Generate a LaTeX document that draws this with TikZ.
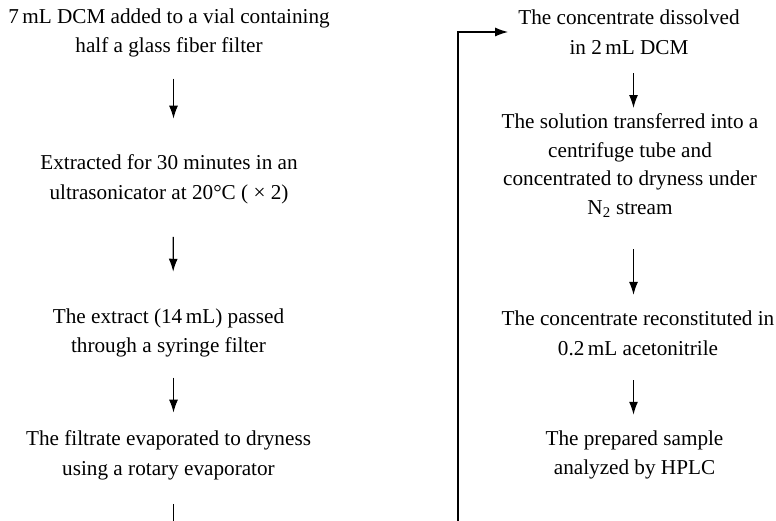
\documentclass[tikz,border=0pt]{standalone}
\usepackage{fontspec}
\setmainfont{Liberation Serif}
\usetikzlibrary{arrows.meta}
\begin{document}
\begin{tikzpicture}[x=1pt,y=-1pt,
  stepbox/.style={align=center,inner sep=0pt,font=\fontsize{21.2}{29.8}\selectfont},
  tightbox/.style={stepbox,font=\fontsize{21.2}{28.5}\selectfont},
  flow/.style={line width=1.3pt,-{Latex[length=13pt,width=9pt]}},
  plain/.style={line width=1.3pt}]
\useasboundingbox (0,0) rectangle (776,521);
% left column
\node[stepbox] (l1) at (169,33) {7\,mL DCM added to a vial containing\\half a glass fiber filter};
\node[stepbox] (l2) at (169,179) {Extracted for 30 minutes in an\\ultrasonicator at 20°C ( × 2)};
\node[stepbox] (l3) at (168.5,333) {The extract (14\,mL) passed\\through a syringe filter};
\node[stepbox] (l4) at (168.5,455) {The filtrate evaporated to dryness\\using a rotary evaporator};
% right column
\node[stepbox] (r1) at (629,32) {The concentrate dissolved\\in 2\,mL DCM};
\node[tightbox] (r2) at (630,165.5) {The solution transferred into a\\centrifuge tube and\\concentrated to dryness under\\N\textsubscript{2} stream};
\node[stepbox] (r3) at (638,333) {The concentrate reconstituted in\\0.2\,mL acetonitrile};
\node[stepbox] (r4) at (634.5,455) {The prepared sample\\analyzed by HPLC};
\coordinate (lend) at (173.5,521);
\coordinate (rend) at (458,521);
% connectors
\draw[flow,shorten <=21pt,shorten >=35.5pt] ([xshift=4.5pt]l1.south) -- ([xshift=4.5pt]l2.north);
\draw[flow,shorten <=33pt,shorten >=36.5pt] ([xshift=4.5pt]l2.south) -- ([xshift=4.5pt]l3.north);
\draw[flow,shorten <=20pt,shorten >=17.5pt] ([xshift=5pt]l3.south) -- ([xshift=5pt]l4.north);
\draw[plain,shorten <=24pt] ([xshift=5pt]l4.south) -- (lend);
\draw[flow,shorten >=10pt] (rend) |- (r1.west);
\draw[flow,shorten <=18.5pt,shorten >=5.5pt] ([xshift=4.5pt]r1.south) -- ([xshift=3.5pt]r2.north);
\draw[flow,shorten <=32pt,shorten >=15.5pt] ([xshift=3.5pt]r2.south) -- ([xshift=-4.5pt]r3.north);
\draw[flow,shorten <=24.5pt,shorten >=15.5pt] ([xshift=-4.5pt]r3.south) -- ([xshift=-1pt]r4.north);
\end{tikzpicture}
\end{document}
